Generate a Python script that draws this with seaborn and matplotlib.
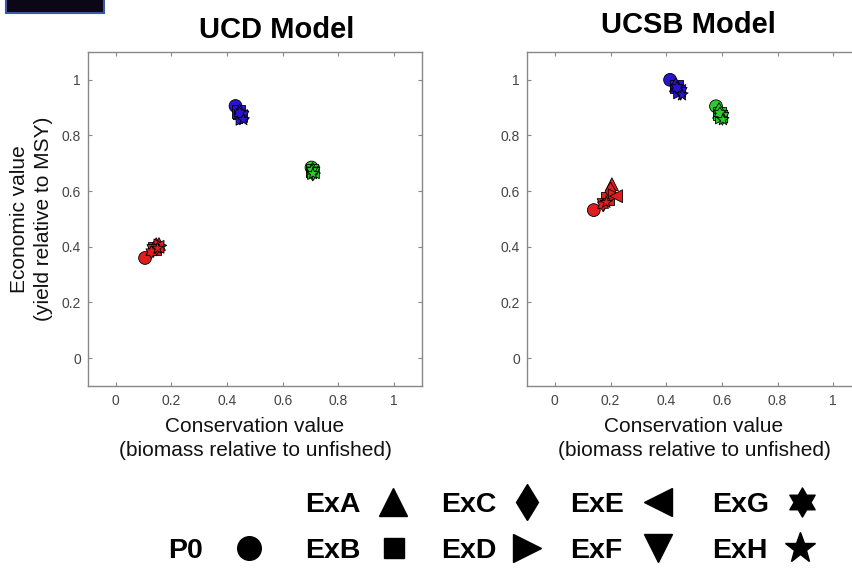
import numpy as np
import pandas as pd
import matplotlib.pyplot as plt
import seaborn as sns
from matplotlib.path import Path
from matplotlib.patches import Rectangle

# scenario names, in drawing order
scenarios = ['P0', 'ExA', 'ExB', 'ExC', 'ExD', 'ExE', 'ExF', 'ExG', 'ExH']

# UCD model (conservation value x, economic value y)
ucd_red_x = [0.105, 0.155, 0.140, 0.145, 0.160, 0.150, 0.135, 0.128, 0.150]
ucd_red_y = [0.360, 0.410, 0.395, 0.400, 0.405, 0.400, 0.385, 0.381, 0.395]
ucd_blue_x = [0.430, 0.445, 0.440, 0.445, 0.455, 0.450, 0.455, 0.445, 0.458]
ucd_blue_y = [0.906, 0.880, 0.885, 0.880, 0.860, 0.870, 0.865, 0.880, 0.857]
ucd_green_x = [0.703, 0.707, 0.705, 0.707, 0.712, 0.708, 0.710, 0.705, 0.708]
ucd_green_y = [0.685, 0.672, 0.675, 0.670, 0.665, 0.668, 0.662, 0.673, 0.663]

# UCSB model
ucsb_red_x = [0.140, 0.205, 0.190, 0.200, 0.215, 0.220, 0.175, 0.173, 0.185]
ucsb_red_y = [0.532, 0.625, 0.575, 0.600, 0.585, 0.582, 0.550, 0.550, 0.560]
ucsb_blue_x = [0.414, 0.435, 0.437, 0.435, 0.450, 0.447, 0.452, 0.439, 0.457]
ucsb_blue_y = [1.000, 0.980, 0.975, 0.975, 0.955, 0.960, 0.950, 0.971, 0.946]
ucsb_green_x = [0.579, 0.590, 0.592, 0.590, 0.600, 0.598, 0.602, 0.593, 0.604]
ucsb_green_y = [0.905, 0.885, 0.880, 0.885, 0.865, 0.868, 0.860, 0.879, 0.857]

ticks = [0, 0.2, 0.4, 0.6, 0.8, 1]
tick_labels = ['0', '0.2', '0.4', '0.6', '0.8', '1']

hexagram = Path.unit_regular_star(6, 0.577)
marker_map = {'P0': 'o', 'ExA': '^', 'ExB': 's', 'ExC': 'd', 'ExD': '>',
              'ExE': '<', 'ExF': 'v', 'ExG': hexagram, 'ExH': '*'}
palette = {'red': '#e01e1e', 'blue': '#2a14d2', 'green': '#2ccc2c'}


def make_frame(red_x, red_y, blue_x, blue_y, green_x, green_y):
    rows = []
    for grp, xs, ys in [('red', red_x, red_y), ('blue', blue_x, blue_y),
                        ('green', green_x, green_y)]:
        for sc, x, y in zip(scenarios, xs, ys):
            rows.append({'group': grp, 'scenario': sc, 'x': x, 'y': y})
    return pd.DataFrame(rows)


df_ucd = make_frame(ucd_red_x, ucd_red_y, ucd_blue_x, ucd_blue_y, ucd_green_x, ucd_green_y)
df_ucsb = make_frame(ucsb_red_x, ucsb_red_y, ucsb_blue_x, ucsb_blue_y, ucsb_green_x, ucsb_green_y)

sns.set_style('ticks')
plt.rcParams['font.family'] = ['Liberation Sans', 'DejaVu Sans']
plt.rcParams['text.color'] = 'black'
plt.rcParams['axes.labelcolor'] = 'black'

W, H = 853, 575
fig = plt.figure(figsize=(W / 100, H / 100), dpi=100)

# dark strip in the top-left corner of the original slide
fig.patches.append(Rectangle((6 / W, 1 - 13 / H), 98 / W, 20 / H, transform=fig.transFigure,
                             facecolor='#0b0716', edgecolor='#3d5a9e', lw=1.5, zorder=0))


def style_axes(ax):
    ax.set_xlim(-0.1, 1.1)
    ax.set_ylim(-0.1, 1.1)
    ax.set_xticks(ticks)
    ax.set_xticklabels(tick_labels)
    ax.set_yticks(ticks)
    ax.set_yticklabels(tick_labels)
    ax.tick_params(direction='in', length=3, width=0.8, colors='#888888',
                   labelcolor='#444444', labelsize=10, top=True, right=True)
    ax.tick_params(axis='x', pad=6)
    ax.tick_params(axis='y', pad=5)
    for sp in ax.spines.values():
        sp.set_visible(True)
        sp.set_color('#888888')
        sp.set_linewidth(1.0)
    ax.set_xlabel('Conservation value\n(biomass relative to unfished)', fontsize=15,
                  color='#111111', labelpad=6, linespacing=1.35)


ax1 = fig.add_axes([88 / W, 1 - 386 / H, 334 / W, 334 / H])
sns.scatterplot(data=df_ucd, x='x', y='y', hue='group', style='scenario', palette=palette,
                markers=marker_map, s=85, edgecolor='black', linewidth=0.6,
                legend=False, ax=ax1)
style_axes(ax1)
ax1.set_ylabel('Economic value\n(yield relative to MSY)', fontsize=15, color='#111111',
               labelpad=6, linespacing=1.35)

ax2 = fig.add_axes([527 / W, 1 - 386 / H, 334 / W, 334 / H])
sns.scatterplot(data=df_ucsb, x='x', y='y', hue='group', style='scenario', palette=palette,
                markers=marker_map, s=85, edgecolor='black', linewidth=0.6,
                legend=False, ax=ax2)
style_axes(ax2)
ax2.set_ylabel('')

fig.text(277 / W, 1 - 38 / H, 'UCD Model', ha='center', va='baseline', fontsize=21, fontweight='bold')
fig.text(688 / W, 1 - 33 / H, 'UCSB Model', ha='center', va='baseline', fontsize=21, fontweight='bold')

# marker key at the bottom (drawn in a pixel-space overlay)
key = fig.add_axes([0, 0, 1, 1], facecolor='none')
key.set_xlim(0, W)
key.set_ylim(H, 0)
key.axis('off')

key_labels = ['P0', 'ExA', 'ExB', 'ExC', 'ExD', 'ExE', 'ExF', 'ExG', 'ExH']
key_text_x = [168, 305, 305, 441, 441, 570, 570, 712, 712]
key_mark_x = [249, 393, 394, 527, 527, 658, 658, 802, 800]
key_row = [1, 0, 1, 0, 1, 0, 1, 0, 1]
key_sizes = {'P0': 17, 'ExA': 20, 'ExB': 14, 'ExC': 18.5, 'ExD': 20,
             'ExE': 20, 'ExF': 20, 'ExG': 21, 'ExH': 23}
row_base = [512.5, 558.5]

for lab, tx, mx, r in zip(key_labels, key_text_x, key_mark_x, key_row):
    key.text(tx, row_base[r], lab, ha='left', va='baseline', fontsize=20.5, fontweight='bold')
    key.plot([mx], [row_base[r] - 10.5], marker=marker_map[lab], color='black',
             markersize=key_sizes[lab], linestyle='none')

fig.savefig('out.png', dpi=100)
